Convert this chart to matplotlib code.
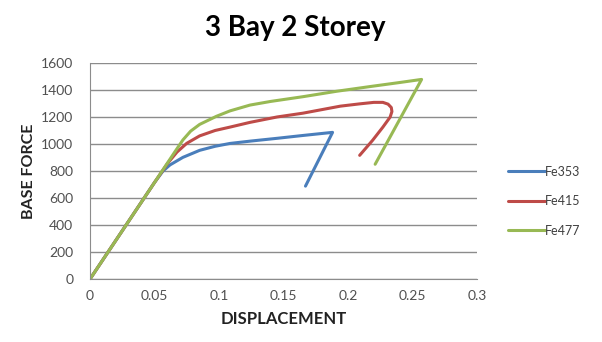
import matplotlib.pyplot as plt

# Pushover curves: base force vs roof displacement for three steel grades
fe353_x = [0, 0.050, 0.0566, 0.062, 0.072, 0.085, 0.097, 0.1085, 0.125, 0.145, 0.165,
           0.188, 0.167]
fe353_y = [0, 715, 800, 845, 901, 953, 983, 1004, 1022, 1042, 1063, 1086, 688]

fe415_x = [0, 0.050, 0.060, 0.0674, 0.075, 0.085, 0.097, 0.1085, 0.124, 0.145, 0.165,
           0.194, 0.209, 0.220, 0.227, 0.231, 0.2335, 0.234, 0.2326, 0.227, 0.219, 0.209]
fe415_y = [0, 715, 855, 940, 1005, 1060, 1100, 1125, 1160, 1200, 1228,
           1280, 1297, 1308, 1308, 1295, 1270, 1240, 1199, 1125, 1027, 916]

fe477_x = [0, 0.050, 0.066, 0.072, 0.078, 0.085, 0.098, 0.1085, 0.124, 0.140, 0.165,
           0.191, 0.217, 0.240, 0.257, 0.221]
fe477_y = [0, 715, 945, 1030, 1095, 1145, 1205, 1245, 1288, 1315, 1350,
           1390, 1425, 1455, 1478, 850]

xticks = [0, 0.05, 0.1, 0.15, 0.2, 0.25, 0.3]
xtick_labels = ['0', '0.05', '0.1', '0.15', '0.2', '0.25', '0.3']
yticks = list(range(0, 1601, 200))

plt.rcParams['font.family'] = ['Lato', 'DejaVu Sans']

fig = plt.figure(figsize=(6.02, 3.42), dpi=100)
ax = fig.add_axes([0.1495, 0.184, 0.643, 0.632])

line_kw = dict(lw=2.2, solid_capstyle='round', solid_joinstyle='round')
ax.plot(fe353_x, fe353_y, color='#4A7EBB', label='Fe353', **line_kw)
ax.plot(fe415_x, fe415_y, color='#BE4B48', label='Fe415', **line_kw)
ax.plot(fe477_x, fe477_y, color='#98B954', label='Fe477', **line_kw)

ax.set_xlim(0, 0.3)
ax.set_ylim(0, 1600)
ax.set_xticks(xticks)
ax.set_xticklabels(xtick_labels)
ax.set_yticks(yticks)
ax.tick_params(length=0, labelsize=10, labelcolor='#505050')
ax.tick_params(axis='y', pad=12)
ax.tick_params(axis='x', pad=8)

# Horizontal gridlines only, like a spreadsheet chart
ax.grid(axis='y', color='#8c8c8c', lw=1)
ax.set_axisbelow(True)
for side in ['top', 'right']:
    ax.spines[side].set_visible(False)
for side in ['left', 'bottom']:
    ax.spines[side].set_color('#8c8c8c')

ax.set_xlabel('DISPLACEMENT', fontsize=12, fontweight='bold', color='#222222', labelpad=6)
ax.set_ylabel('BASE FORCE', fontsize=11.5, fontweight='bold', color='#222222', labelpad=4)
fig.suptitle('3 Bay 2 Storey', x=0.49, y=0.955, fontsize=20, fontweight='bold')

ax.legend(loc='center left', bbox_to_anchor=(1.05, 0.36), frameon=False,
          fontsize=9, handlelength=3.0, handletextpad=0.0, labelspacing=1.4,
          labelcolor='#404040')

fig.savefig('out.png', dpi=100)
